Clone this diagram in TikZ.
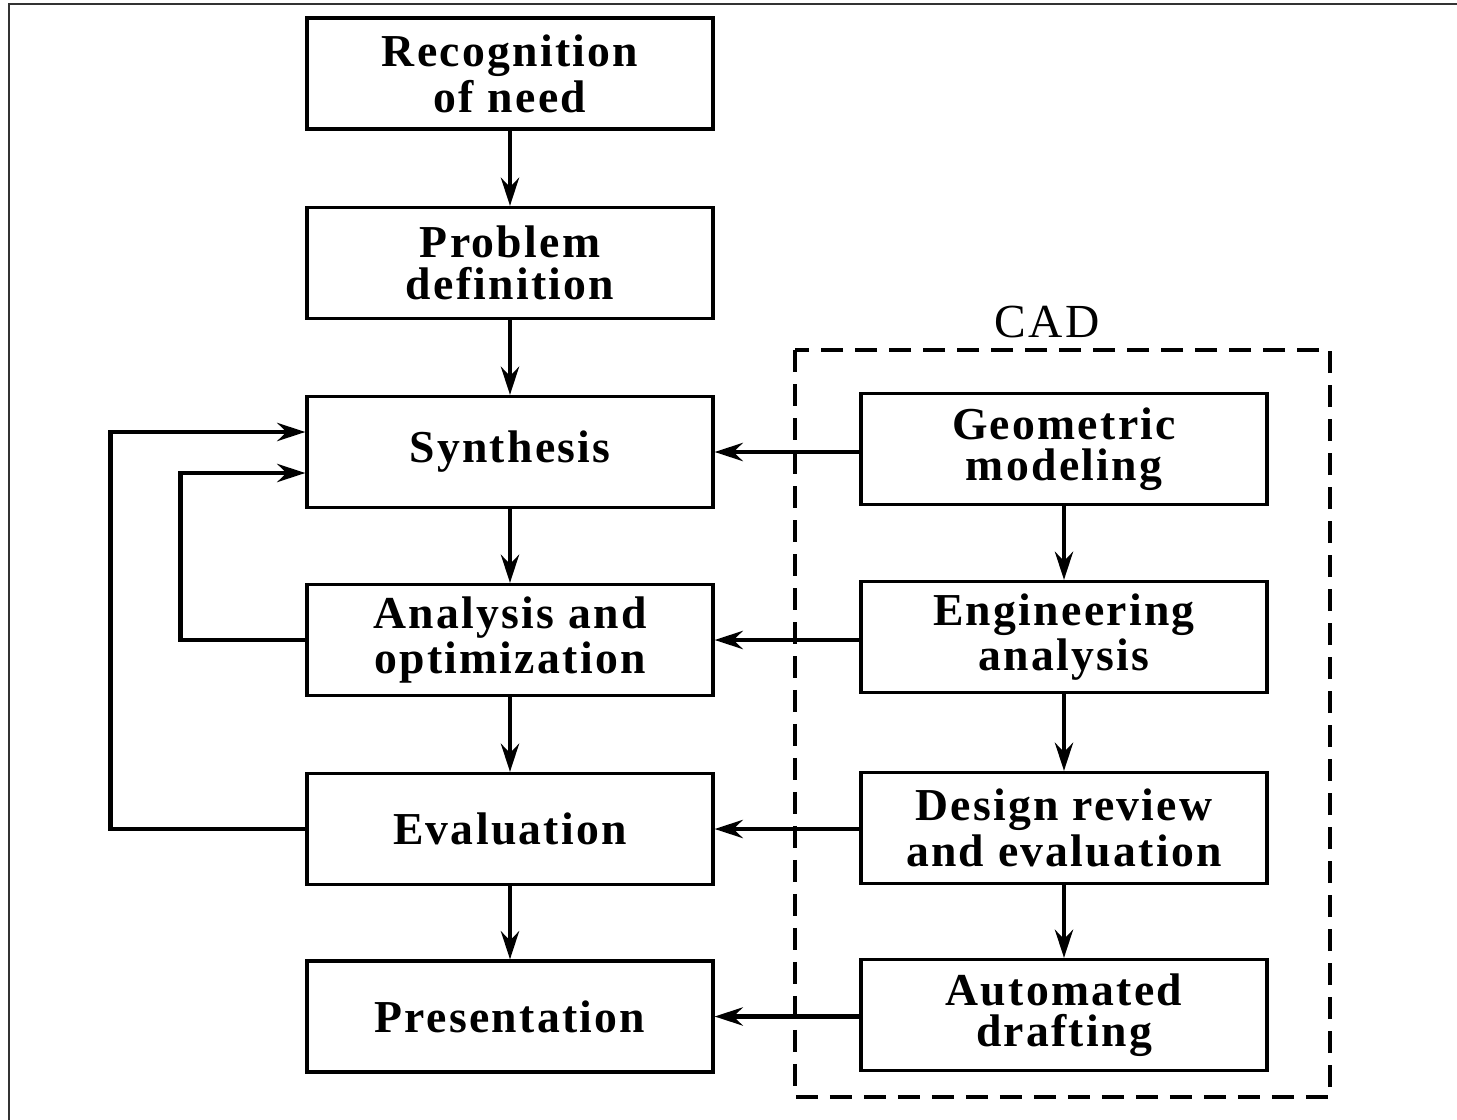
\documentclass[tikz,border=0pt]{standalone}
\usepackage{fontspec}
\setmainfont{Liberation Serif}[LetterSpace=5]
\usetikzlibrary{calc}
\usetikzlibrary{arrows.meta}

\begin{document}
\begin{tikzpicture}
		\tikzset{
			stage/.style={draw=black, line width=0.9pt, minimum width=4.06cm, minimum height=1.11cm,
				align=center, font=\fontsize{13}{11.8}\selectfont\bfseries, inner sep=0pt},
			flow/.style={line width=1.4pt, -{Stealth[length=0.28cm, width=0.18cm]}}
		}
		\useasboundingbox (0,0) rectangle (14.57,-11.2);
		% frame
		\draw[black!80, line width=0.8pt] (0.09,-11.2) -- (0.09,-0.04) -- (14.57,-0.04);
		% design process
		\node[stage] (rec) at (5.10,-0.735) {Recognition\\of need};
		\node[stage] (prb) at (5.10,-2.63) {Problem\\definition};
		\node[stage] (syn) at (5.10,-4.52) {Synthesis};
		\node[stage] (ana) at (5.10,-6.40) {Analysis and\\optimization};
		\node[stage] (eva) at (5.10,-8.29) {Evaluation};
		\node[stage] (pre) at (5.10,-10.165) {Presentation};
		% CAD tools
		\node[stage] (geo) at (10.64,-4.49) {Geometric\\modeling};
		\node[stage] (eng) at (10.64,-6.37) {Engineering\\analysis};
		\node[stage] (drv) at (10.64,-8.28) {Design review\\and evaluation};
		\node[stage] (aut) at (10.64,-10.15) {Automated\\drafting};
		\draw[line width=0.9pt, dash pattern=on 0.22cm off 0.12cm] (7.95,-3.50) rectangle (13.30,-10.97);
		\node[font=\fontsize{13.5}{13.5}\selectfont] (cad) at (10.47,-3.22) {CAD};
		% arrows
		\draw[flow] (rec) -- (prb);
		\draw[flow] (prb) -- (syn);
		\draw[flow] (syn) -- (ana);
		\draw[flow] (ana) -- (eva);
		\draw[flow] (eva) -- (pre);
		\draw[flow] (geo) -- (eng);
		\draw[flow] (eng) -- (drv);
		\draw[flow] (drv) -- (aut);
		\draw[flow] (geo.west |- syn.east) -- (syn.east);
		\draw[flow] (eng.west |- ana.east) -- (ana.east);
		\draw[flow] (drv.west |- eva.east) -- (eva.east);
		\draw[flow] (aut.west |- pre.east) -- (pre.east);
		% feedback
		\draw[flow] (eva.west) -- ++(-1.95,0) |- ([yshift=0.20cm]syn.west);
		\draw[flow] (ana.west) -- ++(-1.25,0) |- ([yshift=-0.21cm]syn.west);
		\end{tikzpicture}
\end{document}
